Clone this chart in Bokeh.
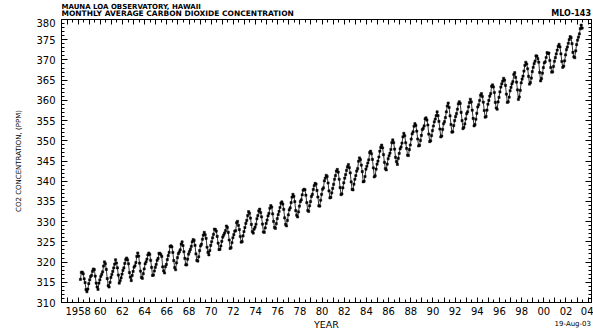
from bokeh.plotting import figure
from bokeh.layouts import column
from bokeh.models import Range1d, LinearAxis, FixedTicker, ColumnDataSource
from bokeh.core.properties import value
from bokeh.embed import file_html
from bokeh.resources import INLINE

# ---------------- data ----------------
start_year = 1958
start_month = 3  # March 1958
co2_ppm = [
    315.71, 317.45, 317.50, 317.10, 315.86, 314.93, 313.20, 312.66, 313.33, 314.67,  # 1958
    315.62, 316.38, 316.71, 317.72, 318.29, 318.15, 316.54, 314.80, 313.84, 313.26, 314.80, 315.58,
    316.43, 316.97, 317.58, 319.02, 320.03, 319.59, 318.18, 315.91, 314.16, 313.83, 315.00, 316.19,
    316.93, 317.70, 318.54, 319.48, 320.58, 319.77, 318.57, 316.79, 314.80, 315.38, 316.10, 317.01,
    317.94, 318.56, 319.68, 320.63, 321.01, 320.55, 319.58, 317.40, 316.26, 315.42, 316.69, 317.69,
    318.74, 319.08, 319.86, 321.39, 322.25, 321.47, 319.74, 317.77, 316.21, 315.99, 317.12, 318.31,
    319.57, 320.07, 320.73, 321.77, 322.25, 321.89, 320.44, 318.70, 316.70, 316.79, 317.79, 318.71,
    319.44, 320.44, 320.89, 322.13, 322.16, 321.87, 321.39, 318.81, 317.81, 317.30, 318.87, 319.42,
    320.62, 321.59, 322.39, 323.87, 324.01, 323.75, 322.39, 320.37, 318.64, 318.10, 319.79, 321.08,
    322.07, 322.50, 323.04, 324.42, 325.00, 324.09, 322.55, 320.92, 319.31, 319.31, 320.72, 321.96,
    322.57, 323.15, 323.89, 325.02, 325.57, 325.36, 324.14, 322.03, 320.41, 320.25, 321.31, 322.84,
    324.00, 324.42, 325.64, 326.66, 327.34, 326.76, 325.88, 323.67, 322.38, 321.78, 322.85, 324.11,
    325.03, 325.99, 326.87, 328.13, 328.07, 327.66, 326.35, 324.69, 323.10, 323.16, 323.98, 325.13,
    326.17, 326.68, 327.18, 327.78, 328.92, 328.57, 327.34, 325.46, 323.36, 323.57, 324.80, 326.01,
    326.77, 327.63, 327.75, 329.72, 330.07, 329.09, 328.05, 326.32, 324.93, 325.06, 326.50, 327.55,
    328.54, 329.56, 330.30, 331.50, 332.48, 332.07, 330.87, 329.31, 327.51, 327.18, 328.16, 328.64,
    329.35, 330.71, 331.48, 332.65, 333.09, 332.25, 331.18, 329.40, 327.44, 327.37, 328.46, 329.58,
    330.40, 331.41, 332.04, 333.31, 333.96, 333.59, 331.91, 330.06, 328.56, 328.34, 329.49, 330.76,
    331.75, 332.56, 333.50, 334.58, 334.87, 334.34, 333.05, 330.94, 329.30, 328.94, 330.31, 331.68,
    332.93, 333.42, 334.70, 336.07, 336.74, 336.27, 334.93, 332.75, 331.58, 331.16, 332.40, 333.85,
    334.97, 335.39, 336.64, 337.76, 338.01, 337.89, 336.54, 334.68, 332.76, 332.54, 333.92, 334.95,
    336.23, 336.76, 337.96, 338.89, 339.47, 339.29, 337.73, 336.09, 333.91, 333.86, 335.29, 336.73,
    338.01, 338.36, 340.08, 340.77, 341.46, 341.17, 339.56, 337.60, 335.88, 336.01, 337.10, 338.21,
    339.24, 340.48, 341.38, 342.51, 342.91, 342.25, 340.49, 338.43, 336.69, 336.85, 338.36, 339.61,
    340.75, 341.61, 342.70, 343.56, 344.13, 343.35, 342.06, 339.82, 337.97, 337.86, 339.26, 340.49,
    341.38, 342.52, 343.10, 344.94, 345.75, 345.32, 343.99, 342.39, 339.86, 339.99, 341.16, 342.99,
    343.70, 344.51, 345.28, 347.08, 347.43, 346.79, 345.40, 343.28, 341.07, 341.35, 342.98, 344.22,
    344.97, 345.99, 347.42, 348.35, 348.93, 348.25, 346.56, 344.67, 343.09, 342.80, 344.24, 345.56,
    346.30, 346.95, 347.85, 349.55, 350.21, 349.54, 347.94, 345.91, 344.86, 344.17, 345.66, 346.90,
    348.02, 348.47, 349.42, 350.99, 351.84, 351.25, 349.52, 348.10, 346.44, 346.36, 347.81, 348.96,
    350.43, 351.72, 352.22, 353.59, 354.22, 353.79, 352.39, 350.44, 348.72, 348.88, 350.07, 351.34,
    352.76, 353.07, 353.68, 355.42, 355.67, 355.13, 353.90, 351.67, 349.80, 349.99, 351.30, 352.53,
    353.66, 354.70, 355.39, 356.20, 357.16, 356.22, 354.82, 352.91, 350.96, 351.18, 352.83, 354.21,
    354.72, 355.75, 357.16, 358.60, 359.34, 358.24, 356.17, 354.03, 352.16, 352.21, 353.75, 354.99,
    355.98, 356.72, 357.81, 359.15, 359.66, 359.25, 357.03, 355.00, 353.01, 353.31, 354.16, 355.40,
    356.70, 357.16, 358.38, 359.46, 360.28, 359.60, 357.57, 355.52, 353.70, 353.98, 355.33, 356.80,
    358.36, 358.91, 359.97, 361.26, 361.68, 360.95, 359.55, 357.49, 355.84, 356.00, 357.59, 359.05,
    359.98, 361.03, 361.66, 363.48, 363.82, 363.30, 361.94, 359.50, 358.11, 357.80, 359.61, 360.74,
    362.09, 363.29, 364.06, 364.76, 365.45, 365.01, 363.70, 361.54, 359.51, 359.65, 360.80, 362.38,
    363.23, 364.06, 364.61, 366.40, 366.84, 365.68, 364.52, 362.57, 360.24, 360.83, 362.49, 364.34,
    365.27, 365.98, 367.24, 368.66, 369.42, 368.99, 367.82, 365.95, 364.02, 364.40, 365.52, 367.13,
    368.18, 369.07, 369.68, 370.99, 370.96, 370.30, 369.45, 366.90, 364.81, 365.37, 366.72, 368.10,
    369.29, 369.54, 370.60, 371.82, 371.58, 371.70, 369.86, 368.13, 367.00, 367.03, 368.37, 369.67,
    370.59, 371.51, 372.43, 373.37, 373.85, 373.22, 371.50, 369.61, 368.18, 368.45, 369.76, 371.24,
    372.53, 373.20, 374.12, 375.02, 375.76, 375.52, 374.01, 371.85, 370.75, 370.55, 372.25, 373.79,
    374.88, 375.64, 376.45, 377.73, 378.60, 377.88,  # 2003 (Jan-Jun)
]
x_tick_years = list(range(1957, 2005))
x_tick_labels = {y: ("1958" if y == 1958 else (f"{y % 100:02d}" if y % 2 == 0 else ""))
                 for y in x_tick_years}
y_ticks = list(range(310, 381, 5))

title1 = "MAUNA LOA OBSERVATORY, HAWAII"
title2 = "MONTHLY AVERAGE CARBON DIOXIDE CONCENTRATION"
station = "MLO-143"
x_title = "YEAR"
y_title = "CO2 CONCENTRATION, (PPM)"
date_str = "19-Aug-03"

# decimal year of each monthly value
dec_year = []
for i in range(len(co2_ppm)):
    m = start_month - 1 + i
    dec_year.append(start_year + m // 12 + (m % 12 + 0.5) / 12.0)

src = ColumnDataSource(dict(x=dec_year, y=co2_ppm))

FONT = "DejaVu Sans"
INK = "black"
W = 593
HEAD_H = 18
FOOT_H = 14
MAIN_H = 332 - HEAD_H - FOOT_H
FRAME_L = 61          # left edge of the plotting frame (px)
FRAME_R = 591         # right edge of the plotting frame (px)


def text_strip(height, items):
    """Axis-less strip for free text.  Bokeh's column aligns its frame with the
    main chart's frame, so its x data units are the page pixels FRAME_L..FRAME_R."""
    f = figure(width=W, height=height, output_backend="svg", toolbar_location=None,
               x_range=Range1d(FRAME_L, FRAME_R), y_range=Range1d(height, 0),
               x_axis_type=None, y_axis_type=None,
               min_border=0, min_border_left=0, min_border_right=0,
               min_border_top=0, min_border_bottom=0,
               background_fill_color="white", border_fill_color="white")
    f.grid.visible = False
    f.outline_line_color = None
    for txt, x, y, size, align, style in items:
        f.text(x=[x], y=[y], text=[txt], text_font=value(FONT), text_font_size=value(size),
               text_font_style=style, text_align=align, text_baseline="middle",
               text_color=INK)
    return f


header = text_strip(HEAD_H, [
    (title1, 61, 6, "7px", "left", "bold"),
    (title2, 61, 13.3, "7.5px", "left", "bold"),
    (station, 590.5, 13.3, "8px", "right", "bold"),
])

p = figure(width=W, height=MAIN_H, output_backend="svg", toolbar_location=None,
           x_range=Range1d(1956.5, 2004.3), y_range=Range1d(310, 380),
           min_border_left=FRAME_L, min_border_right=W - FRAME_R,
           min_border_top=1, min_border_bottom=16,
           background_fill_color="white", border_fill_color="white")
p.grid.visible = False
p.outline_line_color = INK
p.outline_line_width = 1

p.line("x", "y", source=src, line_color=INK, line_width=0.8)
p.scatter("x", "y", source=src, marker="square", size=2.2, fill_color=INK, line_color=INK,
          line_width=0.5)

x_minor = [y + 0.5 for y in x_tick_years]
y_minor = list(range(310, 381))

xa = p.xaxis[0]
xa.ticker = FixedTicker(ticks=x_tick_years, minor_ticks=x_minor)
xa.major_label_overrides = {y: s for y, s in x_tick_labels.items()}
xa.major_tick_in = 5
xa.major_tick_out = 0
xa.minor_tick_in = 3
xa.minor_tick_out = 0
xa.major_label_text_font = FONT
xa.major_label_text_font_size = "10px"
xa.major_label_text_color = INK
xa.major_label_standoff = 4

ya = p.yaxis[0]
ya.ticker = FixedTicker(ticks=y_ticks, minor_ticks=y_minor)
ya.major_tick_in = 6
ya.major_tick_out = 0
ya.minor_tick_in = 3
ya.minor_tick_out = 0
ya.axis_label = y_title
ya.axis_label_text_font = FONT
ya.axis_label_text_font_size = "7px"
ya.axis_label_text_font_style = "normal"
ya.axis_label_text_color = INK
ya.axis_label_standoff = 10
ya.major_label_text_font = FONT
ya.major_label_text_font_size = "10px"
ya.major_label_text_color = INK
ya.major_label_standoff = 6

for ax in (xa, ya):
    ax.axis_line_color = INK
    ax.major_tick_line_color = INK
    ax.minor_tick_line_color = INK

top = LinearAxis(ticker=FixedTicker(ticks=x_tick_years, minor_ticks=x_minor),
                 major_label_overrides={y: "" for y in x_tick_years},
                 major_label_text_font_size="2px",
                 major_tick_in=5, major_tick_out=0,
                 minor_tick_in=3, minor_tick_out=0, major_label_standoff=0,
                 axis_line_color=INK, major_tick_line_color=INK, minor_tick_line_color=INK)
right = LinearAxis(ticker=FixedTicker(ticks=y_ticks, minor_ticks=y_minor),
                   major_label_overrides={y: "" for y in y_ticks},
                   major_label_text_font_size="2px",
                   major_tick_in=6, major_tick_out=0,
                   minor_tick_in=3, minor_tick_out=0, major_label_standoff=0,
                   axis_line_color=INK, major_tick_line_color=INK, minor_tick_line_color=INK)
p.add_layout(top, "above")
p.add_layout(right, "right")

footer = text_strip(FOOT_H, [
    (x_title, 326, 5.5, "9.5px", "center", "normal"),
    (date_str, 590.5, 5, "7px", "right", "normal"),
])

layout = column(header, p, footer, spacing=0)
open("out.html", "w").write(file_html(layout, INLINE))
